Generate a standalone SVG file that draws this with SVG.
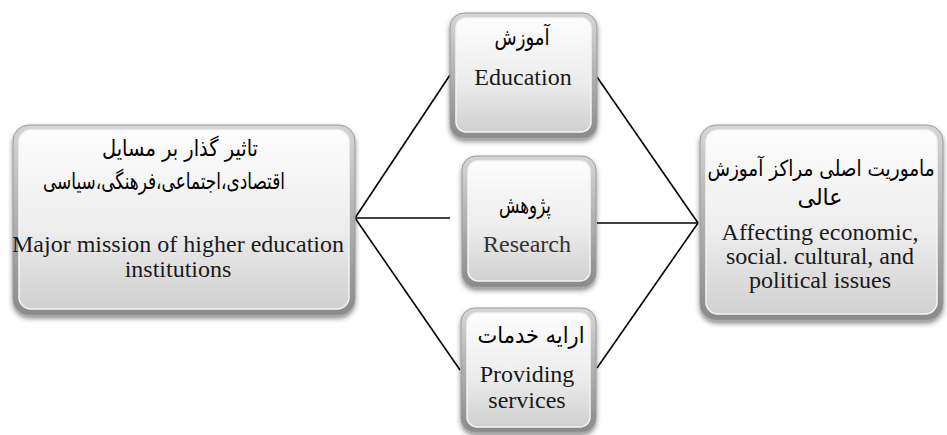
<svg xmlns="http://www.w3.org/2000/svg" width="947" height="435" viewBox="0 0 947 435">
<defs>
<linearGradient id="rim" x1="0" y1="0" x2="0" y2="1">
<stop offset="0" stop-color="#d6d6d6"/>
<stop offset="1" stop-color="#8a8a8a"/>
</linearGradient>
<linearGradient id="face" x1="0" y1="0" x2="0" y2="1">
<stop offset="0" stop-color="#fdfdfd"/>
<stop offset="0.55" stop-color="#ededed"/>
<stop offset="1" stop-color="#d0d0d0"/>
</linearGradient>
<filter id="sh" x="-10%" y="-10%" width="120%" height="125%">
<feDropShadow dx="0" dy="3" stdDeviation="2.5" flood-color="#000" flood-opacity="0.45"/>
</filter>
</defs>
<style>
.rim{fill:url(#rim);stroke:#9a9a9a;stroke-width:1;filter:url(#sh)}
.face{fill:url(#face);stroke:#f4f4f4;stroke-width:1.5}
.fa{font-family:"DejaVu Sans","Noto Sans",sans-serif;font-size:23px;fill:#000;text-anchor:middle;direction:rtl}
.en{font-family:"Liberation Serif",serif;font-size:24px;fill:#1a1a1a;text-anchor:middle}
.ln{stroke:#000;stroke-width:1.6;fill:none}
</style>
<rect width="947" height="435" fill="#fff"/>
<g id="connectors">
<line class="ln" x1="355" y1="218" x2="450" y2="75"/>
<line class="ln" x1="355" y1="218" x2="450" y2="218"/>
<line class="ln" x1="355" y1="218" x2="460" y2="370"/>
<line class="ln" x1="597" y1="77" x2="698" y2="223"/>
<line class="ln" x1="597" y1="223" x2="698" y2="223"/>
<line class="ln" x1="597" y1="368" x2="698" y2="223"/>
</g>
<g id="left">
<rect class="rim" x="13" y="125" width="342" height="190" rx="16"/>
<rect class="face" x="19" y="130" width="330" height="179" rx="12"/>
<text class="fa" x="180" y="156" textLength="156" lengthAdjust="spacingAndGlyphs">تاثیر گذار بر مسایل</text>
<text class="fa" x="164" y="189" textLength="242" lengthAdjust="spacingAndGlyphs">اقتصادی،اجتماعی،فرهنگی،سیاسی</text>
<text class="en" x="178" y="252">Major mission of higher education</text>
<text class="en" x="178" y="277">institutions</text>
</g>
<g id="education">
<rect class="rim" x="450" y="13" width="147" height="125" rx="14"/>
<rect class="face" x="456" y="18" width="135" height="114" rx="10"/>
<text class="fa" x="522" y="45" textLength="55" lengthAdjust="spacingAndGlyphs">آموزش</text>
<text class="en" x="523" y="85">Education</text>
</g>
<g id="research">
<rect class="rim" x="462" y="156" width="134" height="131" rx="14"/>
<rect class="face" x="468" y="161" width="122" height="120" rx="10"/>
<text class="fa" x="525" y="213" textLength="52" lengthAdjust="spacingAndGlyphs">پژوهش</text>
<text class="en" x="527" y="252" style="fill:#333">Research</text>
</g>
<g id="services">
<rect class="rim" x="461" y="308" width="135" height="124" rx="14"/>
<rect class="face" x="467" y="313" width="123" height="114" rx="10"/>
<text class="fa" x="531" y="343" textLength="107" lengthAdjust="spacingAndGlyphs">ارایه خدمات</text>
<text class="en" x="527" y="382">Providing</text>
<text class="en" x="527" y="408">services</text>
</g>
<g id="right">
<rect class="rim" x="700" y="125" width="243" height="195" rx="16"/>
<rect class="face" x="706" y="130" width="231" height="184" rx="12"/>
<text class="fa" transform="translate(821 176) scale(0.84 1)" x="0" y="0" style="font-size:22px">ماموریت اصلی مراکز آموزش</text>
<text class="fa" x="820" y="205" textLength="45" lengthAdjust="spacingAndGlyphs">عالی</text>
<text class="en" x="820" y="240">Affecting economic,</text>
<text class="en" x="820" y="264">social. cultural, and</text>
<text class="en" x="820" y="288">political issues</text>
</g>
</svg>
